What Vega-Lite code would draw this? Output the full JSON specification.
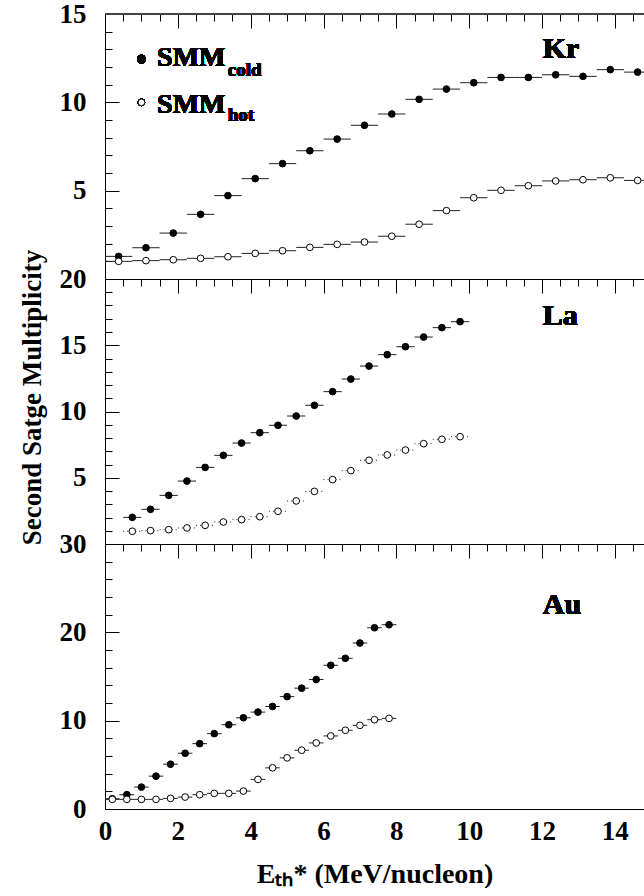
{
"$schema": "https://vega.github.io/schema/vega-lite/v6.json",
"background": "white",
"padding": {"left": 17, "top": 0, "right": 0, "bottom": 0},
"bounds": "flush",
"spacing": 0,
"datasets": {
"kr": [
{"s":"cold","E":0.375,"M":1.28,"lo":0,"hi":0.75},{"s":"cold","E":1.125,"M":1.77,"lo":0.75,"hi":1.5},{"s":"cold","E":1.875,"M":2.60,"lo":1.5,"hi":2.25},{"s":"cold","E":2.625,"M":3.66,"lo":2.25,"hi":3},{"s":"cold","E":3.375,"M":4.72,"lo":3,"hi":3.75},{"s":"cold","E":4.125,"M":5.68,"lo":3.75,"hi":4.5},{"s":"cold","E":4.875,"M":6.53,"lo":4.5,"hi":5.25},{"s":"cold","E":5.625,"M":7.26,"lo":5.25,"hi":6},{"s":"cold","E":6.375,"M":7.92,"lo":6,"hi":6.75},{"s":"cold","E":7.125,"M":8.70,"lo":6.75,"hi":7.5},{"s":"cold","E":7.875,"M":9.34,"lo":7.5,"hi":8.25},{"s":"cold","E":8.625,"M":10.17,"lo":8.25,"hi":9},{"s":"cold","E":9.375,"M":10.75,"lo":9,"hi":9.75},{"s":"cold","E":10.125,"M":11.11,"lo":9.75,"hi":10.5},{"s":"cold","E":10.875,"M":11.41,"lo":10.5,"hi":11.25},{"s":"cold","E":11.625,"M":11.41,"lo":11.25,"hi":12},{"s":"cold","E":12.375,"M":11.56,"lo":12,"hi":12.75},{"s":"cold","E":13.125,"M":11.47,"lo":12.75,"hi":13.5},{"s":"cold","E":13.875,"M":11.85,"lo":13.5,"hi":14.25},{"s":"cold","E":14.625,"M":11.71,"lo":14.25,"hi":15},
{"s":"hot","E":0.375,"M":1.00,"lo":0,"hi":0.75},{"s":"hot","E":1.125,"M":1.04,"lo":0.75,"hi":1.5},{"s":"hot","E":1.875,"M":1.09,"lo":1.5,"hi":2.25},{"s":"hot","E":2.625,"M":1.17,"lo":2.25,"hi":3},{"s":"hot","E":3.375,"M":1.26,"lo":3,"hi":3.75},{"s":"hot","E":4.125,"M":1.45,"lo":3.75,"hi":4.5},{"s":"hot","E":4.875,"M":1.60,"lo":4.5,"hi":5.25},{"s":"hot","E":5.625,"M":1.79,"lo":5.25,"hi":6},{"s":"hot","E":6.375,"M":1.96,"lo":6,"hi":6.75},{"s":"hot","E":7.125,"M":2.09,"lo":6.75,"hi":7.5},{"s":"hot","E":7.875,"M":2.42,"lo":7.5,"hi":8.25},{"s":"hot","E":8.625,"M":3.10,"lo":8.25,"hi":9},{"s":"hot","E":9.375,"M":3.87,"lo":9,"hi":9.75},{"s":"hot","E":10.125,"M":4.60,"lo":9.75,"hi":10.5},{"s":"hot","E":10.875,"M":5.02,"lo":10.5,"hi":11.25},{"s":"hot","E":11.625,"M":5.28,"lo":11.25,"hi":12},{"s":"hot","E":12.375,"M":5.55,"lo":12,"hi":12.75},{"s":"hot","E":13.125,"M":5.62,"lo":12.75,"hi":13.5},{"s":"hot","E":13.875,"M":5.73,"lo":13.5,"hi":14.25},{"s":"hot","E":14.625,"M":5.58,"lo":14.25,"hi":15}
],
"la": [
{"s":"cold","E":0.75,"M":2.01,"lo":0.5,"hi":1},{"s":"cold","E":1.25,"M":2.62,"lo":1,"hi":1.5},{"s":"cold","E":1.75,"M":3.67,"lo":1.5,"hi":2},{"s":"cold","E":2.25,"M":4.75,"lo":2,"hi":2.5},{"s":"cold","E":2.75,"M":5.78,"lo":2.5,"hi":3},{"s":"cold","E":3.25,"M":6.69,"lo":3,"hi":3.5},{"s":"cold","E":3.75,"M":7.62,"lo":3.5,"hi":4},{"s":"cold","E":4.25,"M":8.40,"lo":4,"hi":4.5},{"s":"cold","E":4.75,"M":8.96,"lo":4.5,"hi":5},{"s":"cold","E":5.25,"M":9.66,"lo":5,"hi":5.5},{"s":"cold","E":5.75,"M":10.47,"lo":5.5,"hi":6},{"s":"cold","E":6.25,"M":11.50,"lo":6,"hi":6.5},{"s":"cold","E":6.75,"M":12.45,"lo":6.5,"hi":7},{"s":"cold","E":7.25,"M":13.43,"lo":7,"hi":7.5},{"s":"cold","E":7.75,"M":14.29,"lo":7.5,"hi":8},{"s":"cold","E":8.25,"M":14.89,"lo":8,"hi":8.5},{"s":"cold","E":8.75,"M":15.62,"lo":8.5,"hi":9},{"s":"cold","E":9.25,"M":16.33,"lo":9,"hi":9.5},{"s":"cold","E":9.75,"M":16.78,"lo":9.5,"hi":10},
{"s":"hot","E":0.75,"M":0.96,"lo":0.5,"hi":1},{"s":"hot","E":1.25,"M":1.01,"lo":1,"hi":1.5},{"s":"hot","E":1.75,"M":1.08,"lo":1.5,"hi":2},{"s":"hot","E":2.25,"M":1.21,"lo":2,"hi":2.5},{"s":"hot","E":2.75,"M":1.41,"lo":2.5,"hi":3},{"s":"hot","E":3.25,"M":1.66,"lo":3,"hi":3.5},{"s":"hot","E":3.75,"M":1.84,"lo":3.5,"hi":4},{"s":"hot","E":4.25,"M":2.06,"lo":4,"hi":4.5},{"s":"hot","E":4.75,"M":2.47,"lo":4.5,"hi":5},{"s":"hot","E":5.25,"M":3.25,"lo":5,"hi":5.5},{"s":"hot","E":5.75,"M":3.97,"lo":5.5,"hi":6},{"s":"hot","E":6.25,"M":4.86,"lo":6,"hi":6.5},{"s":"hot","E":6.75,"M":5.54,"lo":6.5,"hi":7},{"s":"hot","E":7.25,"M":6.32,"lo":7,"hi":7.5},{"s":"hot","E":7.75,"M":6.72,"lo":7.5,"hi":8},{"s":"hot","E":8.25,"M":7.09,"lo":8,"hi":8.5},{"s":"hot","E":8.75,"M":7.57,"lo":8.5,"hi":9},{"s":"hot","E":9.25,"M":7.90,"lo":9,"hi":9.5},{"s":"hot","E":9.75,"M":8.10,"lo":9.5,"hi":10}
],
"au": [
{"s":"cold","E":0.2,"M":1.16,"lo":0,"hi":0.4},{"s":"cold","E":0.6,"M":1.62,"lo":0.4,"hi":0.8},{"s":"cold","E":1.0,"M":2.48,"lo":0.8,"hi":1.2},{"s":"cold","E":1.4,"M":3.72,"lo":1.2,"hi":1.6},{"s":"cold","E":1.8,"M":5.07,"lo":1.6,"hi":2.0},{"s":"cold","E":2.2,"M":6.31,"lo":2.0,"hi":2.4},{"s":"cold","E":2.6,"M":7.40,"lo":2.4,"hi":2.8},{"s":"cold","E":3.0,"M":8.53,"lo":2.8,"hi":3.2},{"s":"cold","E":3.4,"M":9.54,"lo":3.2,"hi":3.6},{"s":"cold","E":3.8,"M":10.33,"lo":3.6,"hi":4.0},{"s":"cold","E":4.2,"M":10.97,"lo":4.0,"hi":4.4},{"s":"cold","E":4.6,"M":11.61,"lo":4.4,"hi":4.8},{"s":"cold","E":5.0,"M":12.72,"lo":4.8,"hi":5.2},{"s":"cold","E":5.4,"M":13.68,"lo":5.2,"hi":5.6},{"s":"cold","E":5.8,"M":14.66,"lo":5.6,"hi":6.0},{"s":"cold","E":6.2,"M":16.27,"lo":6.0,"hi":6.4},{"s":"cold","E":6.6,"M":17.06,"lo":6.4,"hi":6.8},{"s":"cold","E":7.0,"M":18.79,"lo":6.8,"hi":7.2},{"s":"cold","E":7.4,"M":20.52,"lo":7.2,"hi":7.6},{"s":"cold","E":7.8,"M":20.86,"lo":7.6,"hi":8.0},
{"s":"hot","E":0.2,"M":1.09,"lo":0,"hi":0.4},{"s":"hot","E":0.6,"M":1.09,"lo":0.4,"hi":0.8},{"s":"hot","E":1.0,"M":1.09,"lo":0.8,"hi":1.2},{"s":"hot","E":1.4,"M":1.09,"lo":1.2,"hi":1.6},{"s":"hot","E":1.8,"M":1.20,"lo":1.6,"hi":2.0},{"s":"hot","E":2.2,"M":1.35,"lo":2.0,"hi":2.4},{"s":"hot","E":2.6,"M":1.62,"lo":2.4,"hi":2.8},{"s":"hot","E":3.0,"M":1.77,"lo":2.8,"hi":3.2},{"s":"hot","E":3.4,"M":1.77,"lo":3.2,"hi":3.6},{"s":"hot","E":3.8,"M":2.03,"lo":3.6,"hi":4.0},{"s":"hot","E":4.2,"M":3.35,"lo":4.0,"hi":4.4},{"s":"hot","E":4.6,"M":4.66,"lo":4.4,"hi":4.8},{"s":"hot","E":5.0,"M":5.79,"lo":4.8,"hi":5.2},{"s":"hot","E":5.4,"M":6.65,"lo":5.2,"hi":5.6},{"s":"hot","E":5.8,"M":7.48,"lo":5.6,"hi":6.0},{"s":"hot","E":6.2,"M":8.27,"lo":6.0,"hi":6.4},{"s":"hot","E":6.6,"M":8.91,"lo":6.4,"hi":6.8},{"s":"hot","E":7.0,"M":9.47,"lo":6.8,"hi":7.2},{"s":"hot","E":7.4,"M":10.11,"lo":7.2,"hi":7.6},{"s":"hot","E":7.8,"M":10.26,"lo":7.6,"hi":8.0}
]
},
"vconcat": [
{
"width": 539, "height": 265,
"data": {"name": "kr"},
"resolve": {"axis": {"x": "independent", "y": "independent"}},
"layer": [
{"mark": {"type": "rule", "color": "#222", "strokeWidth": 1, "clip": true},
 "encoding": {
  "x": {"field": "lo", "type": "quantitative", "scale": {"domain": [0, 14.8], "nice": false, "zero": false}, "axis": {"orient": "bottom", "title": null, "labels": false, "ticks": false, "domain": false, "grid": true, "gridColor": "black", "gridOpacity": 1, "gridWidth": 1, "gridDash": [7, 2000], "values": [0.5,1,1.5,2.5,3,3.5,4.5,5,5.5,6.5,7,7.5,8.5,9,9.5,10.5,11,11.5,12.5,13,13.5,14.5]}},
  "x2": {"field": "hi"},
  "y": {"field": "M", "type": "quantitative", "scale": {"domain": [0, 15], "nice": false, "zero": false}, "axis": {"orient": "left", "title": null, "labels": false, "ticks": false, "domain": false, "grid": true, "gridColor": "black", "gridOpacity": 1, "gridWidth": 1, "gridDash": [7, 2000], "values": [1,2,3,4,6,7,8,9,11,12,13,14]}}}},
{"mark": {"type": "circle", "size": 45, "stroke": "black", "strokeWidth": 1, "opacity": 1, "clip": true},
 "encoding": {
  "x": {"field": "E", "type": "quantitative", "axis": {"orient": "bottom", "title": null, "labels": false, "ticks": false, "domain": true, "grid": true, "gridColor": "black", "gridOpacity": 1, "gridWidth": 1, "gridDash": [14, 2000], "values": [0,2,4,6,8,10,12,14]}},
  "y": {"field": "M", "type": "quantitative", "axis": {"orient": "left", "title": null, "ticks": false, "domain": true, "grid": true, "gridColor": "black", "gridOpacity": 1, "gridWidth": 1, "gridDash": [14, 2000], "labelPadding": 19, "values": [5,10,15]}},
  "fill": {"field": "s", "type": "nominal", "scale": {"domain": ["cold", "hot"], "range": ["black", "white"]}, "legend": null}}},
{"mark": {"type": "rule", "color": "#444", "strokeWidth": 1},
 "encoding": {"y": {"datum": 15, "type": "quantitative", "axis": null}}},
{"mark": {"type": "circle", "size": 45, "fill": "black", "stroke": "black", "opacity": 1},
 "encoding": {"x": {"datum": 1.0, "type": "quantitative", "axis": null}, "y": {"datum": 12.45, "type": "quantitative", "axis": null}}},
{"mark": {"type": "circle", "size": 45, "fill": "white", "stroke": "black", "strokeWidth": 1, "opacity": 1},
 "encoding": {"x": {"datum": 1.0, "type": "quantitative", "axis": null}, "y": {"datum": 10.0, "type": "quantitative", "axis": null}}},
{"mark": {"type": "text", "text": "SMM", "font": "Liberation Serif", "fontWeight": "bold", "fontSize": 28, "align": "left", "baseline": "alphabetic", "color": "black"},
 "encoding": {"x": {"datum": 1.43, "type": "quantitative", "axis": null}, "y": {"datum": 12.05, "type": "quantitative", "axis": null}}},
{"mark": {"type": "text", "text": "cold", "font": "Liberation Serif", "fontWeight": "bold", "fontSize": 19, "align": "left", "baseline": "alphabetic", "color": "black"},
 "encoding": {"x": {"datum": 3.37, "type": "quantitative", "axis": null}, "y": {"datum": 11.49, "type": "quantitative", "axis": null}}},
{"mark": {"type": "text", "text": "SMM", "font": "Liberation Serif", "fontWeight": "bold", "fontSize": 28, "align": "left", "baseline": "alphabetic", "color": "black"},
 "encoding": {"x": {"datum": 1.43, "type": "quantitative", "axis": null}, "y": {"datum": 9.39, "type": "quantitative", "axis": null}}},
{"mark": {"type": "text", "text": "hot", "font": "Liberation Serif", "fontWeight": "bold", "fontSize": 19, "align": "left", "baseline": "alphabetic", "color": "black"},
 "encoding": {"x": {"datum": 3.37, "type": "quantitative", "axis": null}, "y": {"datum": 8.94, "type": "quantitative", "axis": null}}},
{"mark": {"type": "text", "text": "Kr", "font": "Liberation Serif", "fontWeight": "bold", "fontSize": 30, "align": "left", "baseline": "alphabetic", "color": "black"},
 "encoding": {"x": {"datum": 12.02, "type": "quantitative", "axis": null}, "y": {"datum": 12.5, "type": "quantitative", "axis": null}}}
]
},
{
"width": 539, "height": 265,
"data": {"name": "la"},
"resolve": {"axis": {"x": "independent", "y": "independent"}},
"layer": [
{"transform": [{"filter": "datum.s === 'cold'"}],
 "mark": {"type": "rule", "color": "#222", "strokeWidth": 1, "clip": true},
 "encoding": {
  "x": {"field": "lo", "type": "quantitative", "scale": {"domain": [0, 14.8], "nice": false, "zero": false}, "axis": {"orient": "bottom", "title": null, "labels": false, "ticks": false, "domain": false, "grid": true, "gridColor": "black", "gridOpacity": 1, "gridWidth": 1, "gridDash": [7, 2000], "values": [0.5,1,1.5,2.5,3,3.5,4.5,5,5.5,6.5,7,7.5,8.5,9,9.5,10.5,11,11.5,12.5,13,13.5,14.5]}},
  "x2": {"field": "hi"},
  "y": {"field": "M", "type": "quantitative", "scale": {"domain": [0, 20], "nice": false, "zero": false}, "axis": {"orient": "left", "title": null, "labels": false, "ticks": false, "domain": false, "grid": true, "gridColor": "black", "gridOpacity": 1, "gridWidth": 1, "gridDash": [7, 2000], "values": [1,2,3,4,6,7,8,9,11,12,13,14,16,17,18,19]}}}},
{"transform": [{"filter": "datum.s === 'hot'"}],
 "mark": {"type": "rule", "color": "#222", "strokeWidth": 1, "strokeDash": [1, 3], "clip": true},
 "encoding": {
  "x": {"field": "lo", "type": "quantitative", "axis": null},
  "x2": {"field": "hi"},
  "y": {"field": "M", "type": "quantitative", "axis": null}}},
{"mark": {"type": "circle", "size": 45, "stroke": "black", "strokeWidth": 1, "opacity": 1, "clip": true},
 "encoding": {
  "x": {"field": "E", "type": "quantitative", "axis": {"orient": "bottom", "title": null, "labels": false, "ticks": false, "domain": true, "grid": true, "gridColor": "black", "gridOpacity": 1, "gridWidth": 1, "gridDash": [14, 2000], "values": [0,2,4,6,8,10,12,14]}},
  "y": {"field": "M", "type": "quantitative", "axis": {"orient": "left", "title": "Second Satge Multiplicity", "titleY": 118, "titlePadding": 13, "ticks": false, "domain": true, "grid": true, "gridColor": "black", "gridOpacity": 1, "gridWidth": 1, "gridDash": [14, 2000], "labelPadding": 19, "values": [5,10,15,20]}},
  "fill": {"field": "s", "type": "nominal", "scale": {"domain": ["cold", "hot"], "range": ["black", "white"]}, "legend": null}}},
{"mark": {"type": "text", "text": "La", "font": "Liberation Serif", "fontWeight": "bold", "fontSize": 30, "align": "left", "baseline": "alphabetic", "color": "black"},
 "encoding": {"x": {"datum": 12.02, "type": "quantitative", "axis": null}, "y": {"datum": 16.55, "type": "quantitative", "axis": null}}}
]
},
{
"width": 539, "height": 265,
"data": {"name": "au"},
"resolve": {"axis": {"x": "independent", "y": "independent"}},
"layer": [
{"mark": {"type": "rule", "color": "#222", "strokeWidth": 1, "clip": true},
 "encoding": {
  "x": {"field": "lo", "type": "quantitative", "scale": {"domain": [0, 14.8], "nice": false, "zero": false}, "axis": {"orient": "bottom", "title": null, "labels": false, "ticks": false, "domain": false, "grid": true, "gridColor": "black", "gridOpacity": 1, "gridWidth": 1, "gridDash": [7, 2000], "values": [0.5,1,1.5,2.5,3,3.5,4.5,5,5.5,6.5,7,7.5,8.5,9,9.5,10.5,11,11.5,12.5,13,13.5,14.5]}},
  "x2": {"field": "hi"},
  "y": {"field": "M", "type": "quantitative", "scale": {"domain": [0, 30], "nice": false, "zero": false}, "axis": {"orient": "left", "title": null, "labels": false, "ticks": false, "domain": false, "grid": true, "gridColor": "black", "gridOpacity": 1, "gridWidth": 1, "gridDash": [7, 2000], "values": [2,4,6,8,12,14,16,18,22,24,26,28]}}}},
{"mark": {"type": "circle", "size": 45, "stroke": "black", "strokeWidth": 1, "opacity": 1, "clip": true},
 "encoding": {
  "x": {"field": "E", "type": "quantitative", "axis": {"orient": "bottom", "title": "Eₜₕ* (MeV/nucleon)", "titleFontSize": 28, "titlePadding": 16, "ticks": false, "domain": true, "grid": true, "gridColor": "black", "gridOpacity": 1, "gridWidth": 1, "gridDash": [14, 2000], "labelPadding": 9, "labelFlush": false, "values": [0,2,4,6,8,10,12,14]}},
  "y": {"field": "M", "type": "quantitative", "axis": {"orient": "left", "title": null, "ticks": false, "domain": true, "grid": true, "gridColor": "black", "gridOpacity": 1, "gridWidth": 1, "gridDash": [14, 2000], "labelPadding": 19, "values": [0,10,20,30]}},
  "fill": {"field": "s", "type": "nominal", "scale": {"domain": ["cold", "hot"], "range": ["black", "white"]}, "legend": null}}},
{"mark": {"type": "text", "text": "Au", "font": "Liberation Serif", "fontWeight": "bold", "fontSize": 30, "align": "left", "baseline": "alphabetic", "color": "black"},
 "encoding": {"x": {"datum": 12.02, "type": "quantitative", "axis": null}, "y": {"datum": 22.1, "type": "quantitative", "axis": null}}}
]
}
],
"config": {
"view": {"stroke": null},
"font": "Liberation Serif",
"axis": {"labelOverlap": false, "domainColor": "black", "domainWidth": 1, "labelFont": "Liberation Serif", "labelFontWeight": "bold", "labelFontSize": 27, "labelColor": "black", "titleFont": "Liberation Serif", "titleFontWeight": "bold", "titleFontSize": 27, "titleColor": "black"}
}
}
